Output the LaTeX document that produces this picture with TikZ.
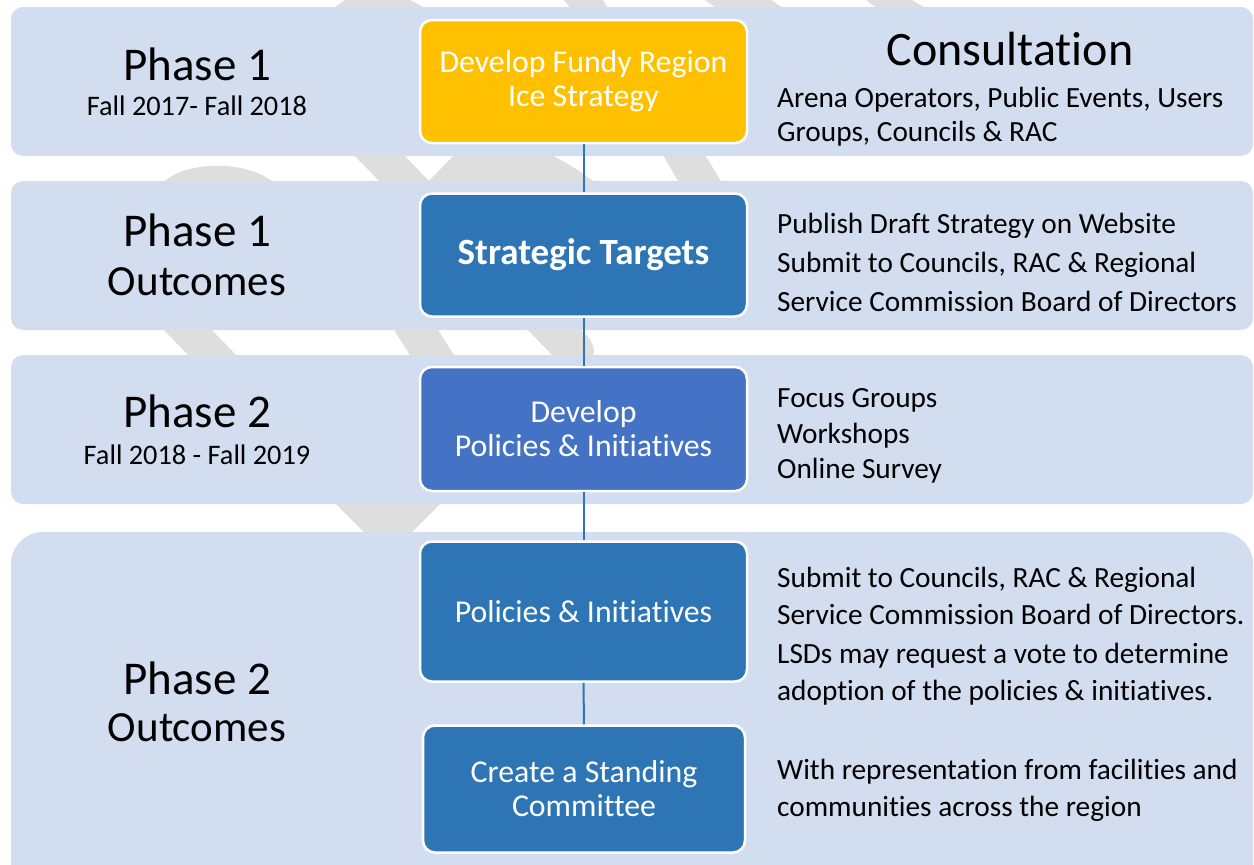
\documentclass[tikz,border=0pt]{standalone}
\usepackage{fontspec}
\setmainfont{Carlito}[Ligatures=NoCommon]
\definecolor{band}{RGB}{210,222,239}
\definecolor{gold}{RGB}{255,192,0}
\definecolor{mblue}{RGB}{46,117,182}
\definecolor{rblue}{RGB}{68,114,196}
\definecolor{ghost}{RGB}{222,222,222}
\begin{document}
\begin{tikzpicture}[x=1pt,y=-1pt,
  bandbox/.style={fill=band, rounded corners=12pt},
  stepbox/.style={draw=white, line width=2.5pt, rounded corners=12pt, text=white,
    minimum width=327pt, align=center, inner sep=0pt},
  link/.style={draw=mblue, line width=2pt},
  phase/.style={anchor=base, inner sep=0pt, font=\fontsize{47}{50}\selectfont},
  outc/.style={anchor=base, inner sep=0pt, font=\fontsize{43}{46}\selectfont},
  period/.style={anchor=base, inner sep=0pt, font=\fontsize{28.3}{30}\selectfont},
  note/.style={anchor=base west, inner sep=0pt, font=\fontsize{29.3}{31}\selectfont},
  boxtext/.style={font=\fontsize{31.8}{34}\selectfont}
]
\useasboundingbox (0,0) rectangle (1254,865);
% background grey ribbon (visible between bands)
\fill[ghost] (345,0) -- (410,0) -- (429,10) -- (331,10) -- cycle;
\fill[ghost] (564,0) -- (603,0) -- (609,10) -- (572,10) -- cycle;
\fill[ghost] (705,0) -- (771,0) -- (786,10) -- (719,10) -- cycle;
\fill[ghost] (866,0) -- (912,0) -- (929,10) -- (879,10) -- cycle;
\fill[ghost] (160,186) .. controls (180,160) and (250,158) .. (278,186) -- cycle;
\fill[ghost] (349,150) -- (399,150) -- (429,181) -- (459,150) -- (540,150)
  .. controls (565,160) and (585,175) .. (600,186) -- (384,186) -- cycle;
\fill[ghost] (660,150) -- (702,150) -- (724,186) -- (681,186) -- cycle;
\fill[ghost] (159,325) -- (207,325) -- (241,360) -- (193,360) -- cycle;
\fill[ghost] (391,325) -- (435,325) -- (457,360) -- (413,360) -- cycle;
\fill[ghost] (523,325) -- (573,325) .. controls (590,335) and (600,350) .. (590,360) -- (557,360) -- cycle;
\fill[ghost] (331,499) -- (445,499) -- (407,537) -- (369,537) -- cycle;
% bands
\fill[bandbox] (11,7) rectangle (1253,156);
\fill[bandbox] (11,181) rectangle (1253,330);
\fill[bandbox] (11,355) rectangle (1253,504);
\fill[band, rounded corners=32pt] (11,532) rectangle (1253,895);
% step boxes
\node[stepbox, fill=gold, minimum height=123pt, boxtext] (b1) at (583.5,81.5)
  {Develop Fundy Region\\Ice Strategy};
\node[stepbox, fill=mblue, minimum height=123pt, font=\fontsize{37}{40}\selectfont\bfseries] (b2) at (583.5,255)
  {Strategic Targets};
\node[stepbox, fill=rblue, minimum height=124pt, boxtext] (b3) at (583.5,429)
  {Develop\\Policies \& Initiatives};
\node[stepbox, fill=mblue, minimum height=140pt, boxtext] (b4) at (583.5,611.5)
  {Policies \& Initiatives};
\node[stepbox, fill=mblue, minimum width=322pt, minimum height=127pt, boxtext] (b5) at (584,789)
  {Create a Standing\\Committee};
% connectors
\draw[link] (b1.south) -- (b2.north);
\draw[link] (b2.south) -- (b3.north);
\draw[link] (b3.south) -- (b4.north);
\draw[link] (b4.south) -- (b5.north);
% left labels
\node[phase] (p1) at (197,80) {Phase 1};
\node[period] (p1d) at (197,115) {Fall 2017- Fall 2018};
\node[phase] (p1o) at (197,246) {Phase 1};
\node[outc] (p1o2) at (197,295) {Outcomes};
\node[phase] (p2) at (197,427) {Phase 2};
\node[period] (p2d) at (197,464) {Fall 2018 - Fall 2019};
\node[phase] (p2o) at (197,694) {Phase 2};
\node[outc] (p2o2) at (197,741) {Outcomes};
% right notes
\node[phase, font=\fontsize{48}{50}\selectfont] (cons) at (1010,65) {Consultation};
\node[note] (n1a) at (777,107) {Arena Operators, Public Events, Users};
\node[note] (n1b) at (777,141) {Groups, Councils \& RAC};
\node[note] (n2a) at (777,233) {Publish Draft Strategy on Website};
\node[note] (n2b) at (777,272) {Submit to Councils, RAC \& Regional};
\node[note] (n2c) at (777,311) {Service Commission Board of Directors};
\node[note] (n3a) at (777,407) {Focus Groups};
\node[note] (n3b) at (777,443) {Workshops};
\node[note] (n3c) at (777,478) {Online Survey};
\node[note] (n4a) at (777,587) {Submit to Councils, RAC \& Regional};
\node[note] (n4b) at (777,624) {Service Commission Board of Directors.};
\node[note] (n4c) at (777,663) {LSDs may request a vote to determine};
\node[note] (n4d) at (777,700) {adoption of the policies \& initiatives.};
\node[note] (n5a) at (777,779) {With representation from facilities and};
\node[note] (n5b) at (777,816) {communities across the region};
\end{tikzpicture}
\end{document}
